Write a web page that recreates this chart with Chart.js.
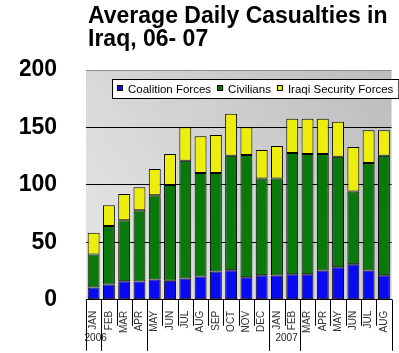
<!DOCTYPE html>
<html>
<head>
<meta charset="utf-8">
<script src="https://cdn.jsdelivr.net/npm/chart.js@4.4.0/dist/chart.umd.min.js"></script>
<style>
  html, body { margin: 0; padding: 0; background: #fff; }
  #wrap { width: 399px; height: 353px; }
</style>
</head>
<body>
<div id="wrap"><canvas id="chart" width="399" height="353"></canvas></div>
<script>
// months Jan 2006 - Aug 2007
const months = ['JAN','FEB','MAR','APR','MAY','JUN','JUL','AUG','SEP','OCT','NOV','DEC',
                'JAN','FEB','MAR','APR','MAY','JUN','JUL','AUG'];
const coalitionForces = [10.7, 13.3, 16.2, 16, 17.7, 16.5, 18.5, 20.3, 24.6, 25.8, 19.7, 21.4,
                         21.1, 22.3, 22.3, 25.5, 28.4, 31, 25.5, 21.4];
const civilians = [28.8, 50.9, 53, 62, 73.3, 83.3, 102.5, 90, 85.7, 99.6, 106.3, 84.2,
                   84.5, 105.5, 104.6, 101.4, 96.2, 63.2, 93.5, 104];
const iraqiSecurityForces = [18.9, 18.1, 22.8, 20, 22.8, 27.1, 29.2, 32, 33.2, 36.6, 24.2, 24.8,
                             28.3, 29.7, 30.6, 30.6, 30.3, 38.8, 28.6, 22.2];
const yTicks = [0, 50, 100, 150, 200];
// year row of the category axis: [label, first month index, last month index]
const yearGroups = [['2006', 0, 0], ['', 1, 3], ['', 4, 11], ['2007', 12, 13], ['', 14, 19]];
const titleLines = ['Average Daily Casualties in', 'Iraq, 06- 07'];

const FONT = '"Liberation Sans", Arial, sans-serif';

// title drawn left-aligned with the plot
const titlePlugin = {
  id: 'leftTitle',
  afterDraw(chart) {
    const ctx = chart.ctx;
    ctx.save();
    ctx.fillStyle = '#000';
    ctx.font = 'bold 23px ' + FONT;
    ctx.textAlign = 'left';
    ctx.textBaseline = 'alphabetic';
    ctx.fillText(titleLines[0], chart.chartArea.left + 2, 23);
    ctx.fillText(titleLines[1], chart.chartArea.left + 2, 46);
    ctx.restore();
  }
};

// grey gradient plot background
const bgPlugin = {
  id: 'plotBg',
  beforeDraw(chart) {
    const { ctx, chartArea: a } = chart;
    const g = ctx.createLinearGradient(a.left, a.bottom, a.right, a.top);
    g.addColorStop(0, '#e8e8e8');
    g.addColorStop(1, '#bcbcbc');
    ctx.save();
    ctx.fillStyle = g;
    ctx.fillRect(a.left, a.top, a.right - a.left, a.bottom - a.top);
    ctx.restore();
  }
};

// boxed legend inside the plot area
const boxLegend = {
  id: 'boxLegend',
  afterDatasetsDraw(chart) {
    const { ctx, chartArea: a } = chart;
    ctx.save();
    ctx.font = '11.5px ' + FONT;
    const x0 = a.left + 26, y0 = a.top + 9, h = 19;
    let w = 4;
    chart.data.datasets.forEach(ds => { w += 6 + 5 + ctx.measureText(ds.label).width + 6; });
    ctx.fillStyle = '#fff';
    ctx.fillRect(x0, y0, w, h);
    ctx.strokeStyle = '#000';
    ctx.lineWidth = 1;
    ctx.strokeRect(x0 + 0.5, y0 + 0.5, w, h);
    let x = x0 + 5;
    chart.data.datasets.forEach(ds => {
      ctx.fillStyle = ds.backgroundColor;
      ctx.fillRect(x, y0 + 6, 6, 6);
      ctx.strokeRect(x + 0.5, y0 + 6.5, 5, 5);
      x += 6 + 5;
      ctx.fillStyle = '#000';
      ctx.textBaseline = 'middle';
      ctx.fillText(ds.label, x, y0 + h / 2 + 1);
      x += ctx.measureText(ds.label).width + 6;
    });
    ctx.restore();
  }
};

// category separators and year row under the x axis
const yearAxis = {
  id: 'yearAxis',
  afterDraw(chart) {
    const { ctx, chartArea: a } = chart;
    const xs = chart.scales.x;
    const step = xs.getPixelForValue(1) - xs.getPixelForValue(0);
    const edge = i => Math.round(xs.getPixelForValue(i) - step / 2) + 0.5;
    ctx.save();
    ctx.strokeStyle = '#000';
    ctx.lineWidth = 1;
    ctx.beginPath();
    for (let i = 0; i <= months.length; i++) {
      ctx.moveTo(edge(i), a.bottom);
      ctx.lineTo(edge(i), a.bottom + 26);
    }
    yearGroups.forEach(([lbl, from, to]) => {
      ctx.moveTo(edge(from), a.bottom);
      ctx.lineTo(edge(from), a.bottom + 51);
      ctx.moveTo(edge(to + 1), a.bottom);
      ctx.lineTo(edge(to + 1), a.bottom + 51);
    });
    ctx.stroke();
    ctx.fillStyle = '#222';
    ctx.font = '10px ' + FONT;
    ctx.textAlign = 'center';
    ctx.textBaseline = 'middle';
    yearGroups.forEach(([lbl, from, to]) => {
      if (!lbl) return;
      const cx = (xs.getPixelForValue(from) + xs.getPixelForValue(to)) / 2;
      ctx.fillText(lbl, cx + 2, a.bottom + 38);
    });
    ctx.restore();
  }
};

const segment = {
  borderColor: '#000',
  borderWidth: 1,
  borderSkipped: false,
  barPercentage: 0.78,
  categoryPercentage: 1
};

new Chart(document.getElementById('chart'), {
  type: 'bar',
  data: {
    labels: months,
    datasets: [
      Object.assign({ label: 'Coalition Forces', data: coalitionForces, backgroundColor: '#0a0af2' }, segment),
      Object.assign({ label: 'Civilians', data: civilians, backgroundColor: '#0a780a' }, segment),
      Object.assign({ label: 'Iraqi Security Forces', data: iraqiSecurityForces, backgroundColor: '#eeee0c' }, segment)
    ]
  },
  options: {
    responsive: false,
    animation: false,
    layout: { padding: { left: 20, right: 4, top: 70, bottom: 17 } },
    plugins: {
      legend: { display: false },
      title: { display: false },
      tooltip: { enabled: false }
    },
    scales: {
      x: {
        stacked: true,
        grid: { display: false },
        border: { display: true, color: '#000', width: 1 },
        ticks: {
          minRotation: 90,
          maxRotation: 90,
          autoSkip: false,
          padding: 3,
          color: '#333',
          font: { family: FONT, size: 10 }
        }
      },
      y: {
        stacked: true,
        min: 0,
        max: 200,
        afterBuildTicks(scale) { scale.ticks = yTicks.map(v => ({ value: v })); },
        afterFit(scale) { scale.width = 66; },
        grid: {
          drawTicks: false,
          color: c => (c.tick && c.tick.value === 200 ? '#8c8c8c' : '#000'),
          lineWidth: 1
        },
        border: { display: false },
        ticks: {
          padding: 29,
          color: '#000',
          font: { family: FONT, size: 23, weight: 'bold' }
        }
      }
    }
  },
  plugins: [bgPlugin, boxLegend, yearAxis, titlePlugin]
});
</script>
</body>
</html>
